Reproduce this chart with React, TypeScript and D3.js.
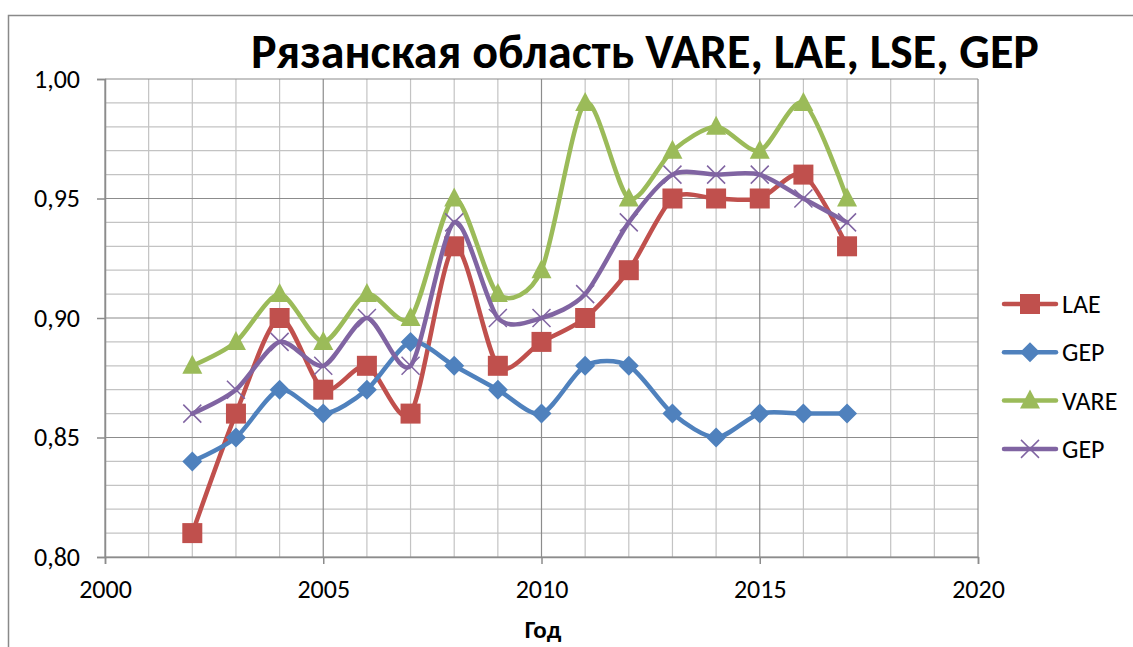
import { useEffect, useRef } from "react";
import * as d3 from "d3";

const years = [2002, 2003, 2004, 2005, 2006, 2007, 2008, 2009, 2010, 2011, 2012, 2013, 2014, 2015, 2016, 2017];
const lae = [0.81, 0.86, 0.9, 0.87, 0.88, 0.86, 0.93, 0.88, 0.89, 0.9, 0.92, 0.95, 0.95, 0.95, 0.96, 0.93];
const gepBlue = [0.84, 0.85, 0.87, 0.86, 0.87, 0.89, 0.88, 0.87, 0.86, 0.88, 0.88, 0.86, 0.85, 0.86, 0.86, 0.86];
const vare = [0.88, 0.89, 0.91, 0.89, 0.91, 0.9, 0.95, 0.91, 0.92, 0.99, 0.95, 0.97, 0.98, 0.97, 0.99, 0.95];
const gepPurple = [0.86, 0.87, 0.89, 0.88, 0.9, 0.88, 0.94, 0.9, 0.9, 0.91, 0.94, 0.96, 0.96, 0.96, 0.95, 0.94];
const seriesNames = ["LAE", "GEP", "VARE", "GEP"];
const xTicks = [2000, 2005, 2010, 2015, 2020];
const yTicks = [0.8, 0.85, 0.9, 0.95, 1.0];

const title = "Рязанская область VARE, LAE, LSE, GEP";
const xTitle = "Год";

const W = 1133;
const H = 647;
const left = 105;
const right = 978;
const top = 79;
const bottom = 557;
const font = "Carlito, Calibri, 'Open Sans', sans-serif";

type Series = { name: string; values: number[]; color: string; marker: string };

const series: Series[] = [
  { name: seriesNames[0], values: lae, color: "#C0504D", marker: "square" },
  { name: seriesNames[1], values: gepBlue, color: "#4F81BD", marker: "diamond" },
  { name: seriesNames[2], values: vare, color: "#9BBB59", marker: "triangle" },
  { name: seriesNames[3], values: gepPurple, color: "#8064A2", marker: "x" },
];

function drawMarker(g: any, kind: string, cx: number, cy: number, color: string) {
  if (kind === "square") {
    g.append("rect").attr("x", cx - 10).attr("y", cy - 10).attr("width", 20).attr("height", 20).attr("fill", color);
  } else if (kind === "diamond") {
    g.append("path").attr("d", `M${cx},${cy - 10}L${cx + 10},${cy}L${cx},${cy + 10}L${cx - 10},${cy}Z`).attr("fill", color);
  } else if (kind === "triangle") {
    g.append("path").attr("d", `M${cx},${cy - 11}L${cx + 10},${cy + 8}L${cx - 10},${cy + 8}Z`).attr("fill", color);
  } else {
    g.append("path")
      .attr("d", `M${cx - 9},${cy - 9}L${cx + 9},${cy + 9}M${cx - 9},${cy + 9}L${cx + 9},${cy - 9}`)
      .attr("stroke", color)
      .attr("stroke-width", 1.5);
  }
}

export default function App() {
  const ref = useRef<SVGSVGElement>(null);

  useEffect(() => {
    const svg = d3.select(ref.current);
    svg.selectAll("*").remove();

    const x = d3.scaleLinear().domain([2000, 2020]).range([left, right]);
    const y = d3.scaleLinear().domain([0.8, 1.0]).range([bottom, top]);

    // chart frame
    svg.append("rect").attr("x", 8.5).attr("y", 15.5).attr("width", 1200).attr("height", 700)
      .attr("fill", "#fff").attr("stroke", "#898989").attr("stroke-width", 1.5);

    const grid = svg.append("g");
    // minor grid
    d3.range(2000, 2021, 1).forEach((yr) => {
      if (yr % 5 === 0) return;
      grid.append("line").attr("x1", x(yr)).attr("x2", x(yr)).attr("y1", top).attr("y2", bottom)
        .attr("stroke", "#c3c3c3").attr("stroke-width", 1.2);
    });
    d3.range(0, 21).forEach((i) => {
      const v = 0.8 + i * 0.01;
      if (i % 5 === 0) return;
      grid.append("line").attr("x1", left).attr("x2", right).attr("y1", y(v)).attr("y2", y(v))
        .attr("stroke", "#c3c3c3").attr("stroke-width", 1.2);
    });
    // major grid
    xTicks.forEach((t) => {
      grid.append("line").attr("x1", x(t)).attr("x2", x(t)).attr("y1", top).attr("y2", bottom)
        .attr("stroke", "#8c8c8c").attr("stroke-width", 1.2);
    });
    yTicks.forEach((t) => {
      grid.append("line").attr("x1", left).attr("x2", right).attr("y1", y(t)).attr("y2", y(t))
        .attr("stroke", "#8c8c8c").attr("stroke-width", 1.2);
    });

    // axes
    const ya = svg.append("g").attr("transform", `translate(${left},0)`)
      .call(d3.axisLeft(y).tickValues(yTicks).tickSize(8).tickPadding(17).tickFormat((d) => d3.format(".2f")(d as number).replace(".", ",")));
    const xa = svg.append("g").attr("transform", `translate(0,${bottom})`)
      .call(d3.axisBottom(x).tickValues(xTicks).tickSize(7).tickPadding(16).tickFormat(d3.format("d")));
    [ya, xa].forEach((a) => {
      a.select(".domain").attr("stroke", "#8c8c8c").attr("stroke-width", 1.5);
      a.selectAll(".tick line").attr("stroke", "#8c8c8c").attr("stroke-width", 1.5);
      a.selectAll("text").attr("font-family", font).attr("font-size", 26).attr("fill", "#000");
    });

    // series
    const line = d3.line<number>()
      .x((_, i) => x(years[i]))
      .y((d) => y(d))
      .curve(d3.curveCardinal.tension(0.2));
    const plot = svg.append("g");
    series.forEach((s) => {
      plot.append("path").attr("d", line(s.values)).attr("fill", "none")
        .attr("stroke", s.color).attr("stroke-width", 4.5).attr("stroke-linejoin", "round").attr("stroke-linecap", "round");
      const mg = plot.append("g");
      s.values.forEach((v, i) => drawMarker(mg, s.marker, x(years[i]), y(v), s.color));
    });

    // legend
    const lg = svg.append("g");
    series.forEach((s, i) => {
      const ly = 304 + i * 48.3;
      lg.append("line").attr("x1", 1004).attr("x2", 1056).attr("y1", ly).attr("y2", ly)
        .attr("stroke", s.color).attr("stroke-width", 4.5).attr("stroke-linecap", "round");
      drawMarker(lg, s.marker, 1030, ly, s.color);
      lg.append("text").attr("x", 1062).attr("y", ly + 9).attr("font-family", font).attr("font-size", 26)
        .attr("fill", "#000").text(s.name);
    });

    // titles
    svg.append("text").attr("x", 645).attr("y", 68).attr("text-anchor", "middle")
      .attr("font-family", font).attr("font-weight", "bold").attr("font-size", 48).attr("fill", "#000").text(title);
    svg.append("text").attr("x", 543).attr("y", 638).attr("text-anchor", "middle")
      .attr("font-family", font).attr("font-weight", "bold").attr("font-size", 25).attr("fill", "#000").text(xTitle);
  }, []);

  return <svg ref={ref} width={W} height={H} style={{ position: "absolute", left: 0, top: 0, background: "#fff" }} />;
}
